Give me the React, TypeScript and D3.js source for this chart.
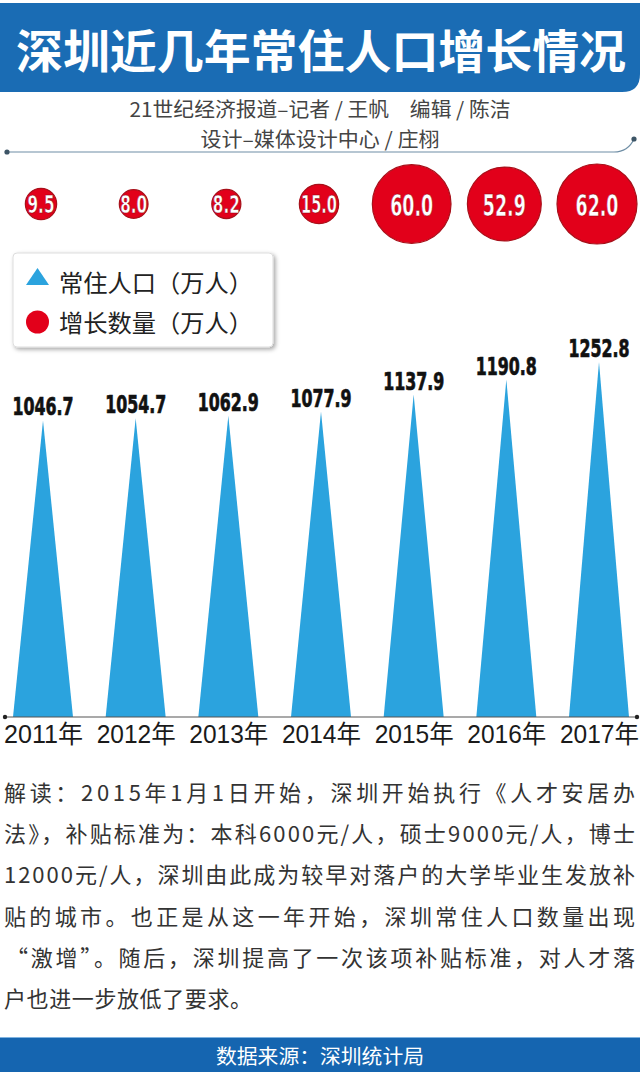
import React from "react";
import * as d3 from "d3";

const years = ["2011", "2012", "2013", "2014", "2015", "2016", "2017"];
const population = [1046.7, 1054.7, 1062.9, 1077.9, 1137.9, 1190.8, 1252.8];
const growth = [9.5, 8.0, 8.2, 15.0, 60.0, 52.9, 62.0];
const yearSuffix = "年";

const title = "深圳近几年常住人口增长情况";
const credits = ["21世纪经济报道–记者 / 王帆　编辑 / 陈洁", "设计–媒体设计中心 / 庄栩"];
const legendLabels = ["常住人口（万人）", "增长数量（万人）"];
const paragraph = [
  "解读：2015年1月1日开始，深圳开始执行《人才安居办",
  "法》，补贴标准为：本科6000元/人，硕士9000元/人，博士",
  "12000元/人，深圳由此成为较早对落户的大学毕业生发放补",
  "贴的城市。也正是从这一年开始，深圳常住人口数量出现",
  "“激增”。随后，深圳提高了一次该项补贴标准，对人才落",
  "户也进一步放低了要求。",
];
const source = "数据来源：深圳统计局";

const W = 640;
const H = 1072;
const BLUE_BAR = "#1a6cb4";
const TRI = "#2ba3de";
const RED = "#e2001a";
const CJK = "'Noto Sans CJK SC', 'Noto Sans', sans-serif";
const NARROW = "'Liberation Sans Narrow', 'DejaVu Sans Condensed', 'DejaVu Sans', sans-serif";

export default function App() {
  const x = d3.scalePoint<string>().domain(years).range([43, 599]);
  const baseY = 717;
  const y = d3.scaleLinear().domain([0, 1260]).range([baseY, 360]);
  const r = d3.scaleSqrt().domain([0, 62]).range([0, 40]);
  const halfW = 30;

  const triPath = (yr: string, v: number) => {
    const p = d3.path();
    const cx = x(yr)!;
    p.moveTo(cx - halfW, baseY);
    p.lineTo(cx, y(v));
    p.lineTo(cx + halfW, baseY);
    p.closePath();
    return p.toString();
  };

  return (
    <svg
      width={W}
      height={H}
      viewBox={`0 0 ${W} ${H}`}
      style={{ position: "absolute", left: 0, top: 0, background: "#fff" }}
    >
      <defs>
        <filter id="shadow" x="-10%" y="-10%" width="130%" height="140%">
          <feDropShadow dx="2" dy="2" stdDeviation="2" floodColor="#000" floodOpacity="0.35" />
        </filter>
      </defs>

      {/* Title bar */}
      <path d={`M0,3 H640 V74 Q640,92 622,92 H0 Z`} fill={BLUE_BAR} />
      <text
        x={321}
        y={48}
        textAnchor="middle"
        dominantBaseline="central"
        fill="#fff"
        fontFamily={CJK}
        fontWeight={700}
        fontSize={46}
        textLength={610}
        lengthAdjust="spacingAndGlyphs"
      >
        {title}
      </text>

      {/* Credits */}
      <text x={320} y={108} textAnchor="middle" dominantBaseline="central" fill="#444"
        fontFamily={CJK} fontSize={20} textLength={381} lengthAdjust="spacingAndGlyphs">
        {credits[0]}
      </text>
      <text x={320} y={138} textAnchor="middle" dominantBaseline="central" fill="#444"
        fontFamily={CJK} fontSize={20} textLength={239} lengthAdjust="spacingAndGlyphs">
        {credits[1]}
      </text>
      <path d="M7,152 H614 Q628,152 634,139" fill="none" stroke="#6f8ea5" strokeWidth={1.2} />
      <circle cx={7} cy={152} r={2.6} fill="#3d5566" />
      <circle cx={634} cy={139} r={2.6} fill="#3d5566" />

      {/* Growth bubbles */}
      {years.map((yr, i) => {
        const rr = r(growth[i]);
        const big = rr > 30;
        const label = growth[i].toFixed(1);
        const fs = big ? 31 : 24;
        const len = big ? 43 : label.length > 3 ? 36 : 27;
        return (
          <g key={"b" + yr}>
            <circle cx={x(yr)! - 2} cy={204} r={rr} fill={RED} stroke="#a8101a" strokeWidth={1.2} />
            <text
              x={x(yr)! - 2}
              y={205}
              textAnchor="middle"
              dominantBaseline="central"
              fill="#fff"
              fontFamily={NARROW}
              fontWeight={700}
              fontSize={fs}
              stroke="#8a0010"
              strokeWidth={0.5}
              textLength={len}
              lengthAdjust="spacingAndGlyphs"
            >
              {label}
            </text>
          </g>
        );
      })}

      {/* Legend */}
      <rect x={13} y={253} width={260} height={94} rx={4} fill="#fff" stroke="#ddd" filter="url(#shadow)" />
      <path d="M26,285 L49,285 L37.5,268 Z" fill={TRI} />
      <circle cx={37.5} cy={322} r={11.5} fill={RED} />
      <text x={59} y={281} dominantBaseline="central" fill="#222" fontFamily={CJK} fontSize={24}
        textLength={194} lengthAdjust="spacingAndGlyphs">
        {legendLabels[0]}
      </text>
      <text x={59} y={321} dominantBaseline="central" fill="#222" fontFamily={CJK} fontSize={24}
        textLength={194} lengthAdjust="spacingAndGlyphs">
        {legendLabels[1]}
      </text>

      {/* Triangles */}
      {years.map((yr, i) => (
        <g key={"t" + yr}>
          <path d={triPath(yr, population[i])} fill={TRI} />
          <text
            x={x(yr)!}
            y={y(population[i]) - 5}
            textAnchor="middle"
            fill="#111"
            fontFamily={NARROW}
            fontWeight={700}
            fontSize={25}
            stroke="#111"
            strokeWidth={0.7}
            textLength={61}
            lengthAdjust="spacingAndGlyphs"
          >
            {population[i].toFixed(1)}
          </text>
        </g>
      ))}

      {/* Axis */}
      <line x1={5} x2={637} y1={baseY} y2={baseY} stroke="#555" strokeWidth={1.2} />
      <circle cx={5} cy={baseY} r={2.2} fill="#222" />
      <circle cx={637} cy={baseY} r={2.2} fill="#222" />
      {years.map((yr) => (
        <text
          key={"y" + yr}
          x={x(yr)! + 0.5}
          y={734}
          textAnchor="middle"
          dominantBaseline="central"
          fill="#1a1a1a"
          fontFamily="'Liberation Sans', 'Noto Sans CJK SC', sans-serif"
          fontSize={25.5}
          textLength={79}
          lengthAdjust="spacingAndGlyphs"
        >
          {yr + yearSuffix}
        </text>
      ))}

      {/* Paragraph */}
      {paragraph.map((line, i) => {
        const last = i === paragraph.length - 1;
        const startX = i === 4 ? 6 : 4;
        return (
          <text
            key={"p" + i}
            x={startX}
            y={791 + i * 41.2}
            dominantBaseline="central"
            fill="#333"
            fontFamily={CJK}
            fontSize={22}
            textLength={last ? 248 : 635 - startX}
            lengthAdjust="spacing"
          >
            {line}
          </text>
        );
      })}

      {/* Footer */}
      <rect x={0} y={1037} width={W} height={H - 1037} fill="#1565b0" />
      <line x1={0} x2={W} y1={1037.5} y2={1037.5} stroke="#7fb3e0" strokeWidth={1} />
      <text x={320} y={1055} textAnchor="middle" dominantBaseline="central" fill="#fff"
        fontFamily={CJK} fontSize={20} textLength={208} lengthAdjust="spacingAndGlyphs">
        {source}
      </text>
    </svg>
  );
}
